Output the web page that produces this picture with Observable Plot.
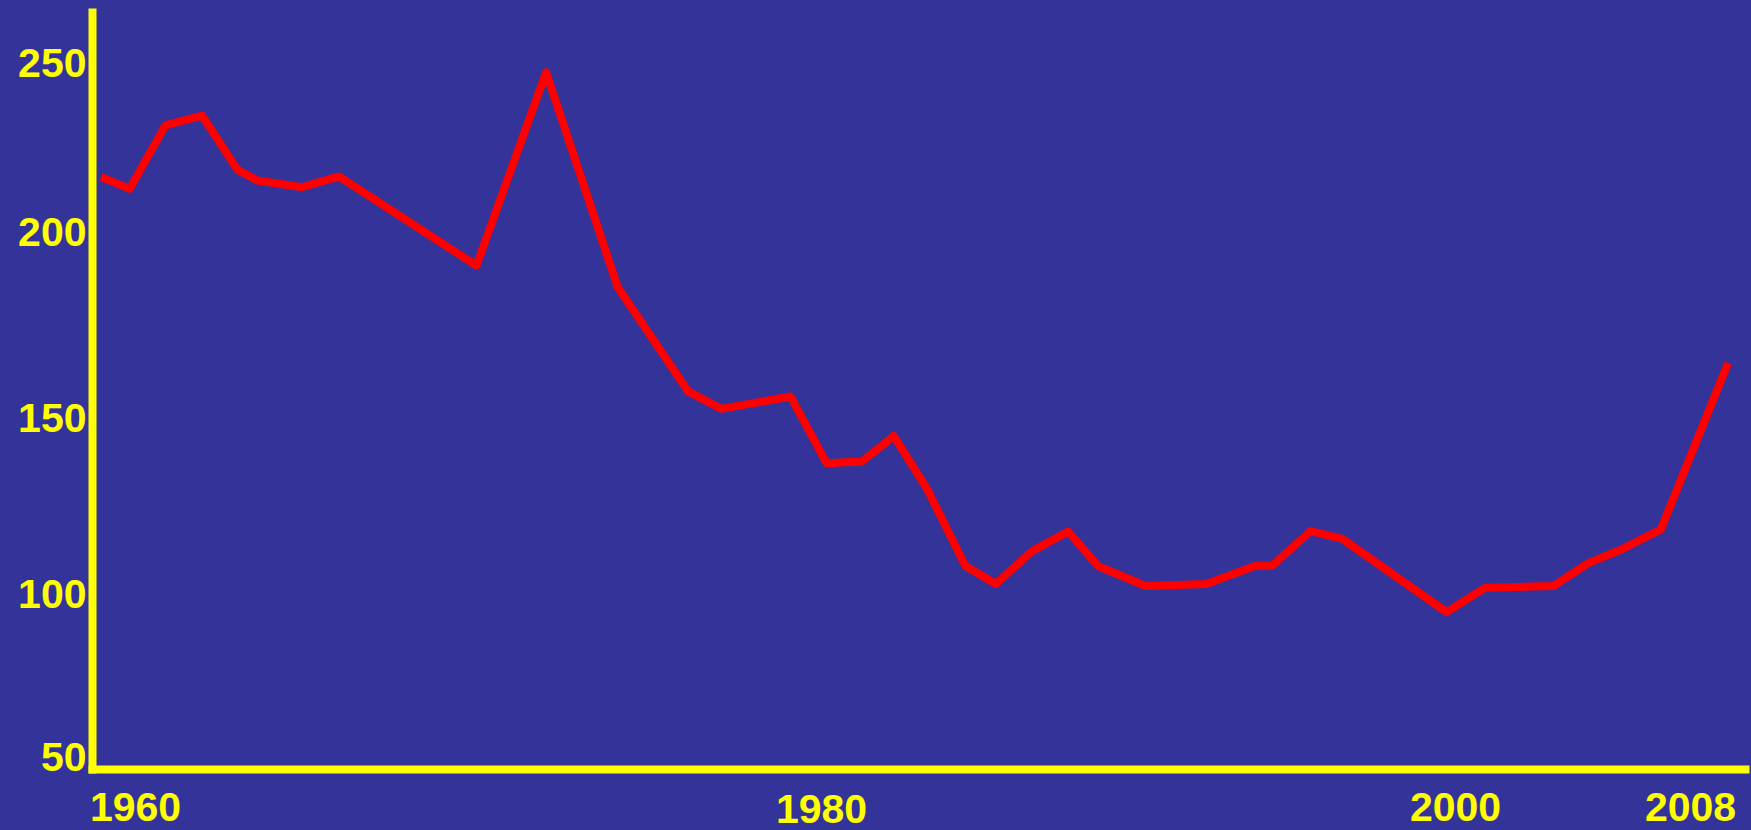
<!DOCTYPE html>
<html>
<head>
<meta charset="utf-8">
<script src="https://cdn.jsdelivr.net/npm/d3@7"></script>
<script src="https://cdn.jsdelivr.net/npm/@observablehq/plot@0.6"></script>
<style>
  html, body { margin: 0; padding: 0; background: #333399; }
  #chart svg { display: block; }
</style>
</head>
<body>
<div id="chart"></div>
<script>
// Data (years as positioned along the hand-placed year labels)
const years = [1959.0, 1959.83, 1960.87, 1961.94, 1962.97, 1963.55, 1964.86, 1965.93, 1969.94, 1971.97,
               1974.06, 1976.11, 1977.08, 1979.10, 1980.16, 1981.28, 1982.28, 1983.33, 1984.54, 1985.50,
               1986.64, 1987.78, 1988.72, 1990.22, 1992.14, 1993.69, 1994.22, 1995.43, 1996.43, 1999.72,
               2001.00, 2003.33, 2004.52, 2005.65, 2006.99, 2009.28];
const values = [216.4, 212.9, 231.7, 234.6, 218.6, 215.4, 213.4, 216.6, 191.1, 247.4,
                185.3, 157.3, 152.6, 155.9, 137.3, 137.8, 145.0, 130.0, 108.1, 103.0,
                112.3, 117.9, 108.1, 102.4, 103.0, 108.2, 108.2, 118.0, 115.8, 94.6,
                101.9, 102.4, 108.9, 112.8, 118.5, 164.9];
const xTickLabels = [1960, 1980, 2000, 2008];
const yTickLabels = [50, 100, 150, 200, 250];

const data = years.map((yr, i) => ({year: yr, value: values[i]}));

const yellow = "#ffff00";
const font = {fontSize: 41, fontWeight: "bold", fontFamily: "'Liberation Sans', Arial, sans-serif", fill: yellow};

const chart = Plot.plot({
  width: 1751,
  height: 830,
  marginLeft: 92,
  marginTop: 12,
  marginRight: 6,
  marginBottom: 61,
  style: {background: "#333399", overflow: "visible"},
  x: {type: "linear", domain: xTickLabels, range: [135, 821, 1455, 1690]},
  y: {type: "linear", domain: yTickLabels, range: [757, 594, 418, 232, 63]},
  marks: [
    Plot.frame({anchor: "left", stroke: yellow, strokeWidth: 8}),
    Plot.frame({anchor: "bottom", stroke: yellow, strokeWidth: 8}),
    Plot.axisY(yTickLabels, {anchor: "left", tickSize: 0, tickPadding: 6, label: null, ...font}),
    Plot.axisX([1960, 2000, 2008], {anchor: "bottom", tickSize: 0, tickPadding: 22, label: null, tickFormat: d => String(d), ...font}),
    Plot.axisX([1980], {anchor: "bottom", tickSize: 0, tickPadding: 24, label: null, tickFormat: d => String(d), ...font}),
    Plot.line(data, {x: "year", y: "value", stroke: "#ff0000", strokeWidth: 8, strokeLinecap: "butt", strokeLinejoin: "round"})
  ]
});
document.getElementById("chart").appendChild(chart);
</script>
</body>
</html>
